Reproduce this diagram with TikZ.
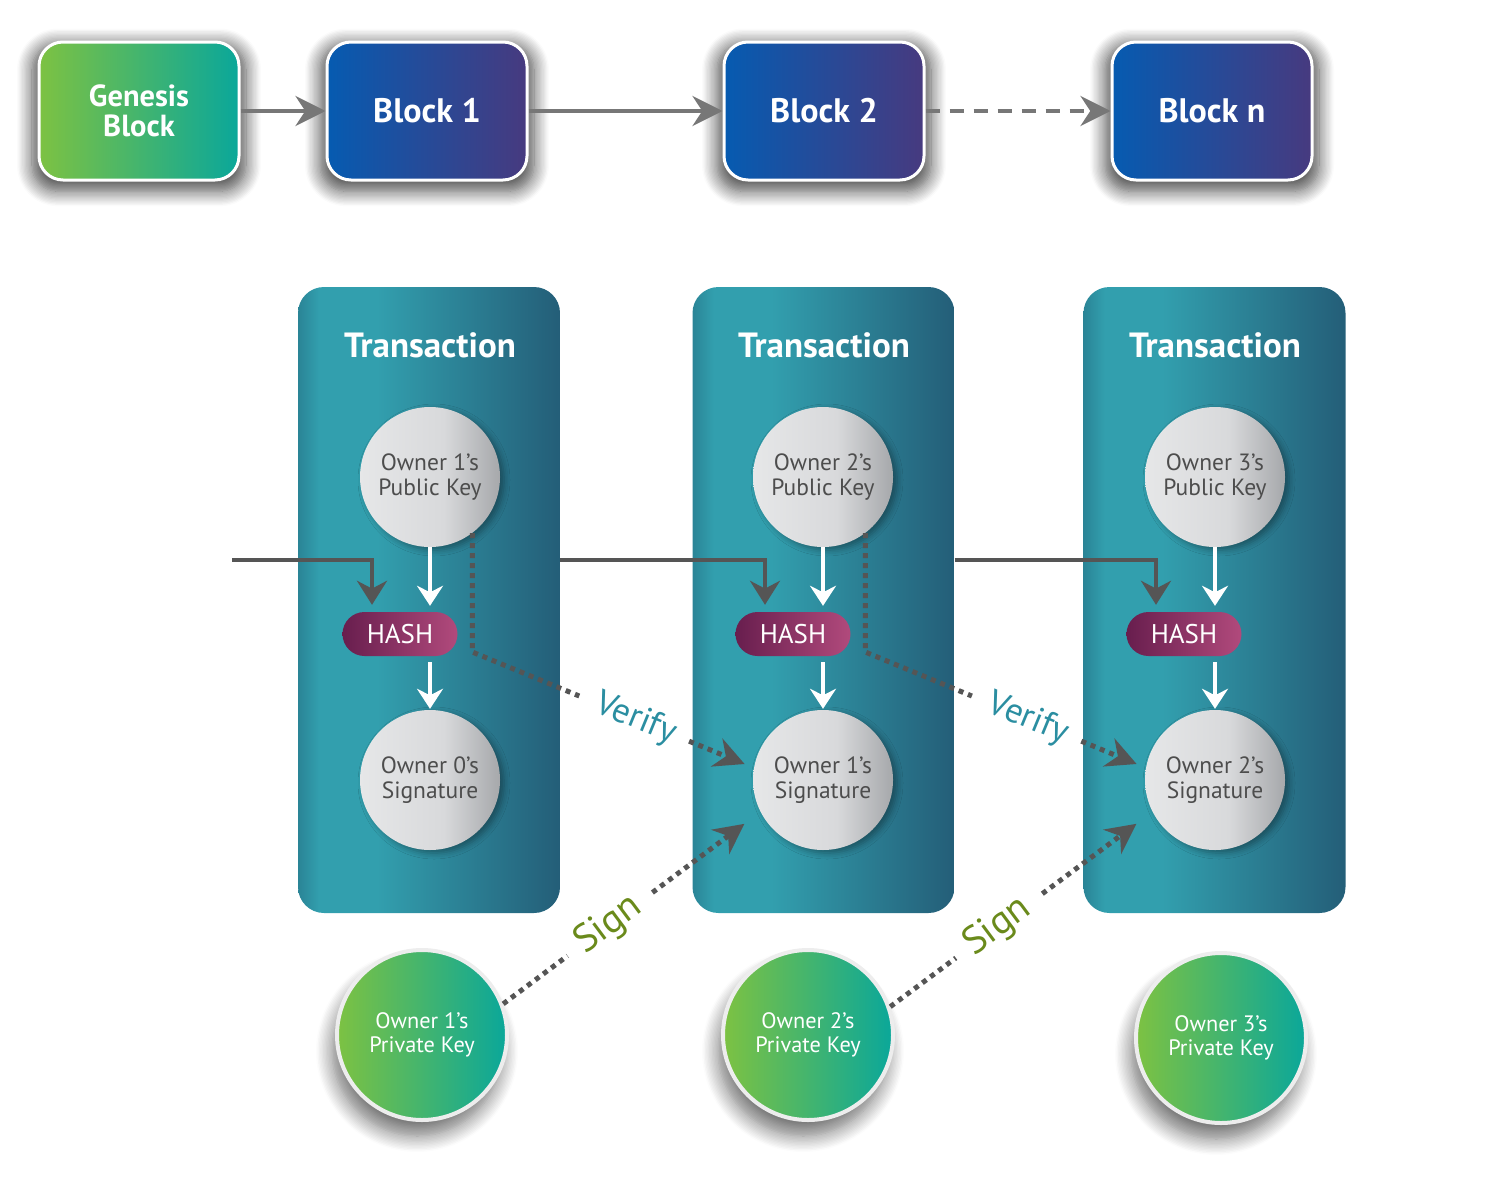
\documentclass[tikz,border=0pt]{standalone}
\usepackage{fontspec}
\setmainfont{PT Sans}
\usetikzlibrary{arrows.meta,shadows.blur,calc}
\definecolor{genL}{HTML}{7DC242}
\definecolor{genR}{HTML}{0AA79A}
\definecolor{blkL}{HTML}{065BB1}
\definecolor{blkR}{HTML}{473A7F}
\definecolor{panD}{HTML}{2A8496}
\definecolor{panL}{HTML}{329FAE}
\definecolor{panR}{HTML}{245E78}
\definecolor{hashL}{HTML}{681E4E}
\definecolor{hashR}{HTML}{B14A7C}
\definecolor{ballA}{HTML}{E6E7E8}
\definecolor{ballB}{HTML}{D8D9DB}
\definecolor{ballC}{HTML}{A6A8AB}
\definecolor{ballText}{HTML}{4D4D4D}
\definecolor{arrowGray}{HTML}{777777}
\definecolor{darkGray}{HTML}{555555}
\definecolor{verifyCol}{HTML}{2B8EA1}
\definecolor{signCol}{HTML}{6A8A1B}
\pgfdeclarehorizontalshading{panelshade}{100bp}{color(0bp)=(panD); color(25bp)=(panD); color(29bp)=(panL); color(40bp)=(panL); color(75bp)=(panR); color(100bp)=(panR)}
\pgfdeclarehorizontalshading{ballshade}{100bp}{color(0bp)=(ballA); color(25bp)=(ballA); color(55bp)=(ballB); color(75bp)=(ballC); color(100bp)=(ballC)}
\begin{document}
\begin{tikzpicture}[x=1pt,y=-1pt,
  blockbox/.style={rounded corners=24pt, minimum width=200pt, minimum height=138pt,
    draw=white, line width=3pt, text=white, align=center, inner sep=0pt,
    font=\bfseries\fontsize{34}{34}\selectfont,
    left color=blkL, right color=blkR,
    blur shadow={shadow xshift=0pt, shadow yshift=-6pt, shadow scale=1.07, shadow blur radius=14pt, shadow blur steps=12, shadow opacity=70}},
  genbox/.style={blockbox, left color=genL, right color=genR, font=\bfseries\fontsize{30.5}{30}\selectfont},
  panel/.style={rounded corners=26pt, minimum width=262pt, minimum height=626pt, shading=panelshade, inner sep=0pt},
  paneltitle/.style={text=white, font=\bfseries\fontsize{35}{35}\selectfont},
  ball/.style={circle, minimum size=140pt, inner sep=0pt, shading=ballshade, text=ballText, align=center,
    font=\fontsize{23.5}{25}\selectfont,
    blur shadow={shadow xshift=4pt, shadow yshift=-3pt, shadow blur radius=6pt, shadow opacity=35}},
  hashbox/.style={rounded corners=22pt, minimum width=115pt, minimum height=44pt, inner sep=0pt,
    left color=hashL, right color=hashR, text=white, font=\fontsize{27}{27}\selectfont},
  privkey/.style={circle, minimum size=170pt, inner sep=0pt, draw=white!93!black, line width=4pt,
    left color=genL, right color=genR, text=white, align=center, font=\fontsize{22.3}{24}\selectfont,
    blur shadow={shadow xshift=-5pt, shadow yshift=-16pt, shadow blur radius=16pt, shadow blur steps=12, shadow opacity=55}},
  toparrow/.style={draw=arrowGray, line width=4pt, -{Stealth[length=30pt,width=30pt]}},
  elbowarrow/.style={draw=darkGray, line width=4pt, -{Stealth[length=24pt,width=30pt]}},
  whitearrow/.style={draw=white, line width=4pt, -{Stealth[length=20pt,width=26pt]}},
  dotline/.style={draw=darkGray, line width=5pt, dash pattern=on 5pt off 5pt},
  dottip/.style={-{Stealth[length=30pt,width=30pt]}},
  verifylbl/.style={text=verifyCol, font=\fontsize{35}{35}\selectfont, inner sep=0pt},
  signlbl/.style={text=signCol, font=\fontsize{39}{39}\selectfont, inner sep=0pt}
]
\useasboundingbox (0,0) rectangle (1509,1183);

% top chain
\node[genbox] (gen) at (139,111) {Genesis\\Block};
\node[blockbox] (b1) at (427,111) {Block 1};
\node[blockbox] (b2) at (824,111) {Block 2};
\node[blockbox] (bn) at (1212,111) {Block n};
\draw[toparrow] (gen.east) -- (b1.west);
\draw[toparrow] (b1.east) -- (b2.west);
\draw[toparrow, dash pattern=on 14pt off 10pt] (b2.east) -- (bn.west);

% panels
\node[panel] (t1) at (429,600) {};
\node[panel] (t2) at (823.5,600) {};
\node[panel] (t3) at (1214.5,600) {};
\node[paneltitle] (tt1) at (430,345) {Transaction};
\node[paneltitle] (tt2) at (824,345) {Transaction};
\node[paneltitle] (tt3) at (1215,345) {Transaction};

% inner nodes
\node[ball] (pk1) at (430,477) {Owner 1’s\\Public Key};
\node[ball] (pk2) at (823,477) {Owner 2’s\\Public Key};
\node[ball] (pk3) at (1215,477) {Owner 3’s\\Public Key};
\node[hashbox] (h1) at (400,634) {HASH};
\node[hashbox] (h2) at (793,634) {HASH};
\node[hashbox] (h3) at (1184,634) {HASH};
\node[ball] (sig1) at (430,780) {Owner 0’s\\Signature};
\node[ball] (sig2) at (823,780) {Owner 1’s\\Signature};
\node[ball] (sig3) at (1215,780) {Owner 2’s\\Signature};

% private keys
\node[privkey] (priv1) at (422,1035) {Owner 1’s\\Private Key};
\node[privkey] (priv2) at (808,1035) {Owner 2’s\\Private Key};
\node[privkey] (priv3) at (1221,1038) {Owner 3’s\\Private Key};

% white arrows
\foreach \i in {1,2,3}{
  \draw[whitearrow, shorten >=6pt] (pk\i.south) -- (pk\i.south |- h\i.north);
  \draw[whitearrow, line width=3.5pt, shorten <=6pt, shorten >=1pt] (sig\i.north |- h\i.south) -- (sig\i.north);
}

% elbow arrows
\coordinate (in1) at (232,560);
\draw[elbowarrow, shorten >=7pt] (in1) -| ($(h1.north)+(-28,0)$);
\draw[elbowarrow, shorten >=7pt] (t1.east |- in1) -| ($(h2.north)+(-28,0)$);
\draw[elbowarrow, shorten >=7pt] (t2.east |- in1) -| ($(h3.north)+(-28,0)$);

% verify
\coordinate (lvl) at (0,652);
\draw[dotline] (pk1.-53) -- (pk1.-53 |- lvl) coordinate (vb1) -- ($(vb1)!0.38!(sig2.170)$);
\draw[dotline, dottip, shorten >=10pt] ($(vb1)!0.77!(sig2.170)$) -- (sig2.170);
\path (vb1) -- node[verifylbl, sloped, pos=0.58] {Verify} (sig2.170);

\draw[dotline] (pk2.-53) -- (pk2.-53 |- lvl) coordinate (vb2) -- ($(vb2)!0.38!(sig3.170)$);
\draw[dotline, dottip, shorten >=10pt] ($(vb2)!0.77!(sig3.170)$) -- (sig3.170);
\path (vb2) -- node[verifylbl, sloped, pos=0.58] {Verify} (sig3.170);

% sign
\draw[dotline] (priv1.21) -- ($(priv1.21)!0.25!(sig2.207)$);
\draw[dotline, dottip, shorten >=20pt] ($(priv1.21)!0.58!(sig2.207)$) -- (sig2.207);
\path (priv1.21) -- node[signlbl, sloped, pos=0.41] {Sign} (sig2.207);

\draw[dotline] (priv2.19) -- ($(priv2.19)!0.25!(sig3.207)$);
\draw[dotline, dottip, shorten >=20pt] ($(priv2.19)!0.58!(sig3.207)$) -- (sig3.207);
\path (priv2.19) -- node[signlbl, sloped, pos=0.41] {Sign} (sig3.207);
\end{tikzpicture}
\end{document}
